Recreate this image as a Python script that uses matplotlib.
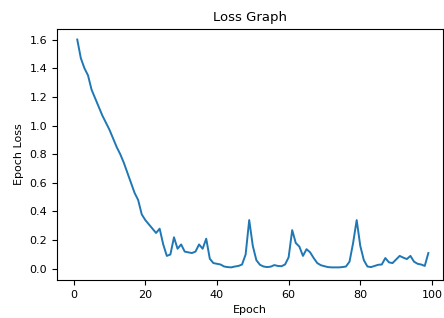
import numpy as np
import matplotlib
matplotlib.use('Agg')
import matplotlib.pyplot as plt

# loss per epoch
epochs = list(range(1, 100))
epoch_loss = [
    1.60, 1.47, 1.40, 1.35, 1.25, 1.19, 1.13, 1.07, 1.02, 0.97,
    0.91, 0.85, 0.80, 0.74, 0.67, 0.60, 0.53, 0.48, 0.38, 0.34,
    0.31, 0.28, 0.25, 0.28, 0.17, 0.09, 0.10, 0.22, 0.14, 0.17,
    0.12, 0.115, 0.11, 0.12, 0.17, 0.14, 0.21, 0.07, 0.04, 0.035,
    0.03, 0.016, 0.012, 0.01, 0.016, 0.02, 0.03, 0.10, 0.34, 0.16,
    0.06, 0.028, 0.016, 0.012, 0.015, 0.026, 0.02, 0.018, 0.03, 0.08,
    0.27, 0.18, 0.155, 0.09, 0.137, 0.115, 0.075, 0.04, 0.025, 0.018,
    0.012, 0.01, 0.01, 0.01, 0.012, 0.016, 0.05, 0.18, 0.34, 0.16,
    0.06, 0.016, 0.012, 0.02, 0.028, 0.03, 0.075, 0.045, 0.04, 0.065,
    0.09, 0.078, 0.068, 0.09, 0.05, 0.035, 0.03, 0.02, 0.11,
]

plt.rcParams['font.size'] = 8

fig = plt.figure(figsize=(4.44, 3.18), dpi=100)
ax = fig.add_axes([0.128, 0.12, 0.869, 0.789])
ax.plot(epochs, epoch_loss, color='#1f77b4', linewidth=1.4)
ax.set_xlim(-4.7, 103)
ax.set_ylim(-0.077, 1.674)
ax.set_title('Loss Graph', fontsize=9.5)
ax.set_xlabel('Epoch')
ax.set_ylabel('Epoch Loss')

fig.savefig('out.png', dpi=100)
